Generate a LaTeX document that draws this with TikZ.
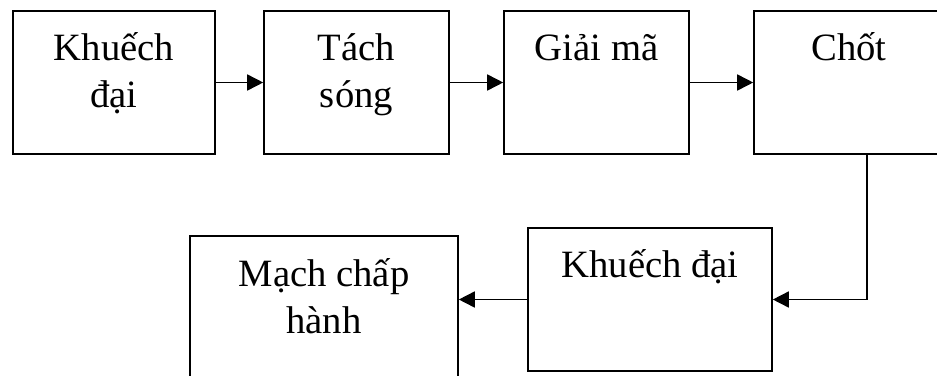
\documentclass[tikz,border=0pt]{standalone}
\usepackage{fontspec}
\setmainfont{Liberation Serif}
\usepackage{tikz}
\usetikzlibrary{arrows.meta,positioning}

\tikzset{
  block/.style={rectangle, draw=black, line width=1.2pt, minimum height=107.25pt, inner sep=0pt},
  blocktext/.style={font=\fontsize{29pt}{35.25pt}\selectfont, align=center, anchor=base, inner sep=0pt},
  link/.style={line width=1.2pt, -{Triangle[length=12pt,width=12pt]}}
}

\begin{document}
\begin{tikzpicture}[x=0.75pt,y=-0.75pt]
  \clip (0,0) rectangle (937,375);
  % top row
  \node[block, minimum width=151.5pt]  (amp1) at (114,82.5) {};
  \node[block, minimum width=138.75pt] (det)  at (356.5,82.5) {};
  \node[block, minimum width=138.75pt] (dec)  at (596.5,82.5) {};
  \node[block, minimum width=142.5pt]  (latch) at (849,82.5) {};
  % bottom row
  \node[block, minimum width=183pt] (amp2) at (650,299.5) {};
  \node[block, minimum width=201pt] (act)  at (324,307.5) {};

  % base sits on the last line, so two-line labels go one line lower
  \node[blocktext] (amp1t)  at ([yshift=-72.75pt]amp1.north)  {Khuếch\\đại};
  \node[blocktext] (dett)   at ([yshift=-72.75pt]det.north)   {Tách\\sóng};
  \node[blocktext] (dect)   at ([yshift=-37.5pt]dec.north)    {Giải mã};
  \node[blocktext] (latcht) at ([yshift=-37.5pt]latch.north)  {Chốt};
  \node[blocktext] (amp2t)  at ([yshift=-37.5pt]amp2.north)   {Khuếch đại};
  \node[blocktext] (actt)   at ([yshift=-73.5pt]act.north)    {Mạch chấp\\hành};

  \draw[link] (amp1) -- (det);
  \draw[link] (det) -- (dec);
  \draw[link] (dec) -- (latch);
  \draw[link] ([xshift=13.5pt]latch.south) |- (amp2.east);
  \draw[link] (amp2.west) -- (amp2.west -| act.east);
\end{tikzpicture}
\end{document}
